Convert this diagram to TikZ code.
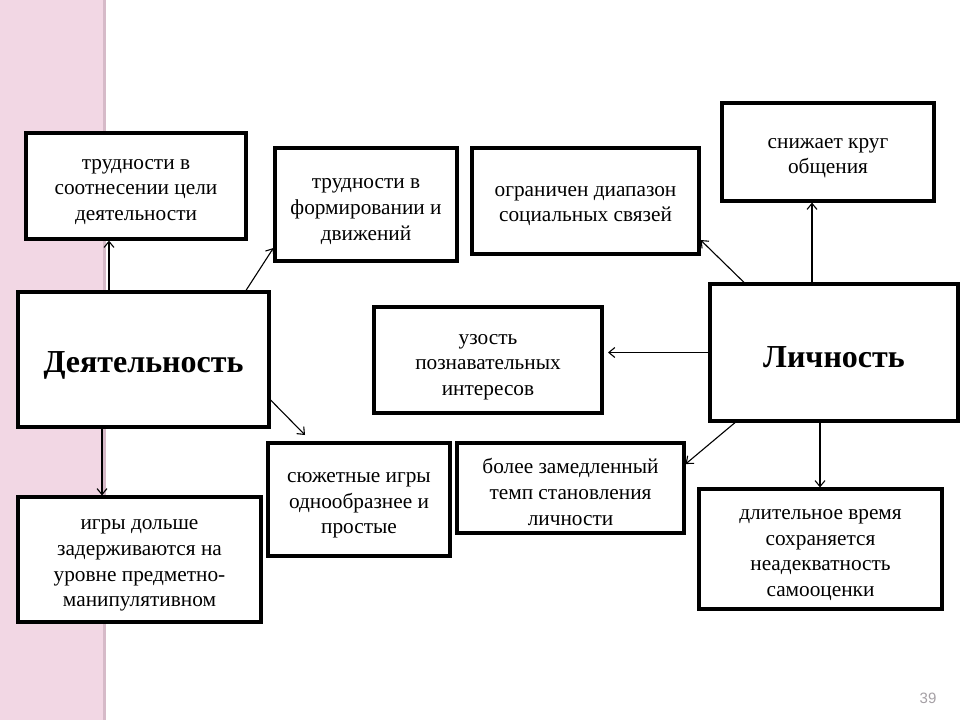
\documentclass[tikz,border=0pt]{standalone}
\usepackage{fontspec}
\setmainfont{Liberation Serif}
\newfontfamily\numfont{Liberation Sans}
\usetikzlibrary{arrows.meta}
\definecolor{pinkbg}{RGB}{242,215,228}
\definecolor{pinkedge}{RGB}{214,186,200}
\definecolor{numgray}{RGB}{165,160,165}
\tikzset{
  box/.style={draw=black, line width=3.2pt, fill=white, inner sep=0pt},
  txt/.style={inner sep=0pt, align=center, font=\fontsize{21.3}{25.6}\selectfont},
  ttl/.style={txt, font=\fontsize{32}{38}\selectfont\bfseries},
  arr/.style={line width=1.1pt, -{Straight Barb[length=6pt,width=10pt,line width=1.1pt]}}
}
\begin{document}
\begin{tikzpicture}[x=1pt,y=-1pt]
\useasboundingbox (0,0) rectangle (960,720);
\fill[white] (0,0) rectangle (960,720);
\fill[pinkbg] (0,0) rectangle (104,720);
\fill[pinkedge] (103,0) rectangle (106,720);

\node[box, minimum width=220pt, minimum height=106pt] (b1) at (136,186) {};
\node[txt] (b1t) at ([yshift=-6pt]b1.center) {трудности в\\соотнесении цели\\деятельности};
\node[box, minimum width=182pt, minimum height=113pt] (b2) at (366,204.5) {};
\node[txt] (b2t) at ([yshift=-7pt]b2.center) {трудности в\\формировании и\\движений};
\node[box, minimum width=251pt, minimum height=135pt] (deyat) at (143.5,359.5) {};
\node[ttl] (deyatt) at ([yshift=-6pt]deyat.center) {Деятельность};
\node[box, minimum width=228pt, minimum height=106pt] (b4) at (488,360) {};
\node[txt] (b4t) at ([yshift=-7pt]b4.center) {узость\\познавательных\\интересов};
\node[box, minimum width=227pt, minimum height=106pt] (b5) at (585.5,201) {};
\node[txt] (b5t) at ([yshift=-5pt]b5.center) {ограничен диапазон\\социальных связей};
\node[box, minimum width=212pt, minimum height=98pt] (b6) at (828,152) {};
\node[txt] (b6t) at ([yshift=-6pt]b6.center) {снижает круг\\общения};
\node[box, minimum width=248pt, minimum height=137pt] (lich) at (834,352.5) {};
\node[ttl] (licht) at ([yshift=-5pt]lich.center) {Личность};
\node[box, minimum width=182pt, minimum height=113pt] (b8) at (359,499.5) {};
\node[txt] (b8t) at ([yshift=-6pt]b8.center) {сюжетные игры\\однообразнее и\\простые};
\node[box, minimum width=243pt, minimum height=125pt] (b9) at (139.5,559.5) {};
\node[txt] (b9t) at ([yshift=-6pt]b9.center) {игры дольше\\задерживаются на\\уровне предметно-\\манипулятивном};
\node[box, minimum width=227pt, minimum height=90pt] (b10) at (570.5,488) {};
\node[txt] (b10t) at ([yshift=-4pt]b10.center) {более замедленный\\темп становления\\личности};
\node[box, minimum width=243pt, minimum height=120pt] (b11) at (820.5,549) {};
\node[txt] (b11t) at ([yshift=-6pt]b11.center) {длительное время\\сохраняется\\неадекватность\\самооценки};

\coordinate (c3) at (305,435);
\coordinate (c5) at (608,352.5);

\draw[arr] ([xshift=-34.5pt]deyat.north) -- ([xshift=-27pt]b1.south);
\draw[arr] ([xshift=102.5pt]deyat.north) -- ([yshift=-43.5pt]b2.west);
\draw[arr] ([yshift=-40.5pt]deyat.east) -- (c3);
\draw[arr] ([xshift=-41.5pt]deyat.south) -- ([xshift=-37.5pt]b9.north);
\draw[arr] (lich.west) -- (c5);
\draw[arr] ([xshift=-90pt]lich.north) -- ([yshift=-39pt]b5.east);
\draw[arr] ([xshift=-22pt]lich.north) -- ([xshift=-16pt]b6.south);
\draw[arr] ([xshift=-99pt]lich.south) -- ([yshift=24pt]b10.east);
\draw[arr] ([xshift=-14pt]lich.south) -- ([xshift=-0.5pt]b11.north);

\node[text=numgray, font=\numfont\fontsize{15}{17}\selectfont] (pg) at (928,698.5) {39};
\end{tikzpicture}
\end{document}
